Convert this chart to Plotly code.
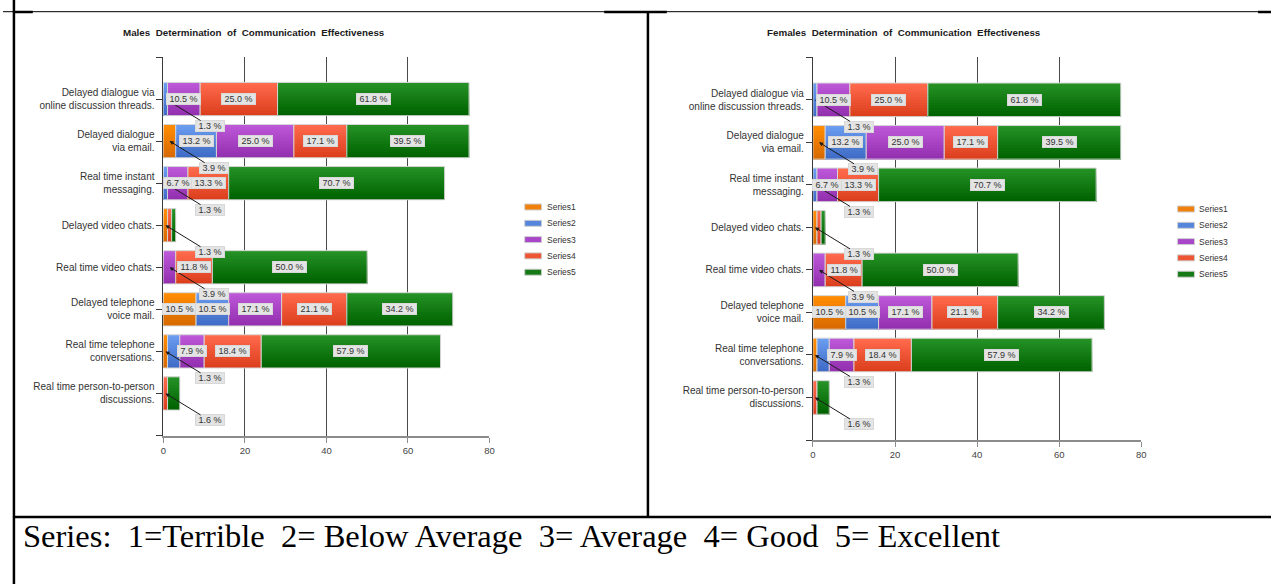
import plotly.graph_objects as go

W_PX, H_PX = 1276, 584

categories = [
    "Delayed dialogue via<br>online discussion threads.",
    "Delayed dialogue<br>via email.",
    "Real time instant<br>messaging.",
    "Delayed video chats.",
    "Real time video chats.",
    "Delayed telephone<br>voice mail.",
    "Real time telephone<br>conversations.",
    "Real time person-to-person<br>discussions.",
]
series_names = ["Series1", "Series2", "Series3", "Series4", "Series5"]

# Number of respondents giving each rating (Series1..Series5), one entry per category
male_series1 = [0, 3, 0, 1, 0, 8, 1, 0]
male_series2 = [1, 10, 1, 0, 0, 8, 3, 0]
male_series3 = [8, 19, 5, 0, 3, 13, 6, 0]
male_series4 = [19, 13, 10, 1, 9, 16, 14, 1]
male_series5 = [47, 30, 53, 1, 38, 26, 44, 3]
male_respondents = [76, 76, 75, 76, 76, 76, 76, 64]

female_series1 = [0, 3, 0, 1, 0, 8, 1, 0]
female_series2 = [1, 10, 1, 0, 0, 8, 3, 0]
female_series3 = [8, 19, 5, 0, 3, 13, 6, 0]
female_series4 = [19, 13, 10, 1, 9, 16, 14, 1]
female_series5 = [47, 30, 53, 1, 38, 26, 44, 3]
female_respondents = [76, 76, 75, 76, 76, 76, 76, 64]

x_ticks = [0, 20, 40, 60, 80]

footer_text = ("Series:\u00a0\u00a01=Terrible\u00a0\u00a02= Below Average\u00a0\u00a0"
               "3= Average\u00a0\u00a04= Good\u00a0\u00a05= Excellent")

# bar fill gradient, light at the top edge, dark at the bottom edge
top_colors = ["#ff8c00", "#6a9cf0", "#bd58d8", "#ff6a4c", "#259125"]
bottom_colors = ["#d96a00", "#3f6cc6", "#9330b0", "#dc3f1e", "#006300"]
legend_colors = ["#f0800c", "#5686dc", "#a845c8", "#ee5535", "#157a15"]

FONT = "Liberation Sans, Arial, sans-serif"
TEXT_GRAY = "#333333"
BAR_W = 0.79
STRIPS = 12
INSIDE_MIN = 5


def px_x(px):
    return px / W_PX


def px_y(py):
    return 1 - py / H_PX


def mix(c1, c2, t):
    a = [int(c1[i:i + 2], 16) for i in (1, 3, 5)]
    b = [int(c2[i:i + 2], 16) for i in (1, 3, 5)]
    return "rgb({},{},{})".format(*[round(a[i] + (b[i] - a[i]) * t) for i in range(3)])


fig = go.Figure()
annotations = []
shapes = []


def add_chart(series, respondents, xa, ya, title, title_x, legend_x, legend_y0):
    ypos = list(range(len(categories)))
    bases = [0] * len(categories)
    segs = []  # (series index, row, base, count)
    for s, vals in enumerate(series):
        base = bases[:]
        for k in range(STRIPS):
            t = k / (STRIPS - 1)
            fig.add_trace(go.Bar(
                orientation="h", x=vals, y=ypos, base=base,
                width=BAR_W - k * BAR_W / STRIPS,
                offset=-BAR_W / 2 + k * BAR_W / STRIPS,
                marker=dict(color=mix(top_colors[s], bottom_colors[s], t), line=dict(width=0)),
                xaxis=xa, yaxis=ya, showlegend=False, hoverinfo="skip",
            ))
        fig.add_trace(go.Bar(
            orientation="h", x=[v if v > 0 else None for v in vals], y=ypos, base=base,
            width=BAR_W, offset=-BAR_W / 2, name=series_names[s],
            marker=dict(color="rgba(0,0,0,0)", line=dict(color="#d6d6d6", width=1)),
            xaxis=xa, yaxis=ya, showlegend=False, hoverinfo="skip",
        ))
        for r, v in enumerate(vals):
            segs.append((s, r, base[r], v))
        bases = [b + v for b, v in zip(bases, vals)]

    xref, yref = xa, ya
    for r in range(len(categories)):
        row = sorted([g for g in segs if g[1] == r and g[3] > 0], key=lambda g: g[0])
        for i, (s, _, b, v) in enumerate(row):
            pct = v / respondents[r] * 100
            label = "\u00a0" + f"{pct:.1f} %" + "\u00a0"
            common = dict(
                x=b + v / 2, y=r, xref=xref, yref=yref, text=label,
                font=dict(family=FONT, size=9, color=TEXT_GRAY),
                bgcolor="#e4e4e4", bordercolor="#d8d8d8", borderwidth=1, borderpad=0,
            )
            if v >= INSIDE_MIN:
                annotations.append(dict(showarrow=False, **common))
            elif i == 0:
                annotations.append(dict(
                    showarrow=True, ax=44, ay=27, axref="pixel", ayref="pixel",
                    arrowhead=2, arrowsize=0.8, arrowwidth=1, arrowcolor="#1a1a1a",
                    standoff=0, **common))

    annotations.append(dict(
        x=px_x(title_x), y=px_y(32.5), xref="paper", yref="paper", showarrow=False,
        text="<b>" + title + "</b>", xanchor="center", yanchor="middle",
        font=dict(family=FONT, size=9.8, color="#1a1a1a"),
    ))

    for s, name in enumerate(series_names):
        cy = legend_y0 + s * 16.3
        shapes.append(dict(
            type="rect", xref="paper", yref="paper",
            x0=px_x(legend_x), x1=px_x(legend_x + 17), y0=px_y(cy + 3), y1=px_y(cy - 3),
            fillcolor=legend_colors[s], line=dict(color="#cfcfcf", width=1),
        ))
        annotations.append(dict(
            x=px_x(legend_x + 20), y=px_y(cy), xref="paper", yref="paper",
            showarrow=False, text=name, xanchor="left", yanchor="middle",
            font=dict(family=FONT, size=8.5, color=TEXT_GRAY),
        ))


add_chart([male_series1, male_series2, male_series3, male_series4, male_series5],
          male_respondents, "x", "y",
          "Males  Determination  of  Communication  Effectiveness", 253, 525, 207)
add_chart([female_series1, female_series2, female_series3, female_series4, female_series5],
          female_respondents, "x2", "y2",
          "Females  Determination  of  Communication  Effectiveness", 907, 1182, 209)


def x_axis(domain, anchor):
    return dict(
        domain=domain, anchor=anchor, range=[0, 80], tickvals=x_ticks,
        showgrid=True, gridcolor="#4a4a4a", gridwidth=1, zeroline=False,
        showline=True, linecolor="#8c8c8c", linewidth=2,
        ticks="outside", ticklen=5, tickcolor="#8c8c8c", tickwidth=1,
        tickfont=dict(family=FONT, size=9.5, color="#444444"), fixedrange=True,
    )


def y_axis(domain, anchor):
    n = len(categories)
    return dict(
        domain=domain, anchor=anchor, range=[n, -1],
        tickvals=list(range(-1, n + 1)), ticktext=[""] + categories + [""],
        showgrid=False, zeroline=False, showline=True, linecolor="#3a3a3a", linewidth=1,
        ticks="outside", ticklen=6, tickcolor="#3a3a3a", tickwidth=1,
        tickfont=dict(family=FONT, size=10, color=TEXT_GRAY), fixedrange=True,
    )


# panel frame lines
def hline(y, x0, x1, w):
    shapes.append(dict(type="line", xref="paper", yref="paper", x0=px_x(x0), x1=px_x(x1),
                       y0=px_y(y), y1=px_y(y), line=dict(color="black", width=w)))


def vline(x, y0, y1, w):
    shapes.append(dict(type="line", xref="paper", yref="paper", x0=px_x(x), x1=px_x(x),
                       y0=px_y(y0), y1=px_y(y1), line=dict(color="black", width=w)))


hline(11.7, 0, 1276, 1)
hline(12, 10, 30, 2.5)
hline(12, 605, 668, 2.5)
hline(12, 1263, 1276, 2.5)
vline(11, 0, 584, 2.5)
vline(649, 11, 517, 2.5)
hline(517, 10, 1276, 2.5)

annotations.append(dict(
    x=px_x(18), y=px_y(536), xref="paper", yref="paper", showarrow=False,
    text=footer_text, xanchor="left", yanchor="middle",
    font=dict(family="Liberation Serif, Times New Roman, serif", size=32.5, color="black"),
))

fig.update_layout(
    width=W_PX, height=H_PX, margin=dict(l=0, r=0, t=0, b=0),
    paper_bgcolor="white", plot_bgcolor="white", barmode="overlay",
    showlegend=False,
    xaxis=x_axis([px_x(161.5), px_x(489.5)], "y"),
    yaxis=y_axis([px_y(435.5), px_y(57)], "x"),
    xaxis2=x_axis([px_x(815), px_x(1145.5)], "y2"),
    yaxis2=y_axis([px_y(440), px_y(57.3)], "x2"),
    annotations=annotations, shapes=shapes,
)

fig.write_html("out.html")
